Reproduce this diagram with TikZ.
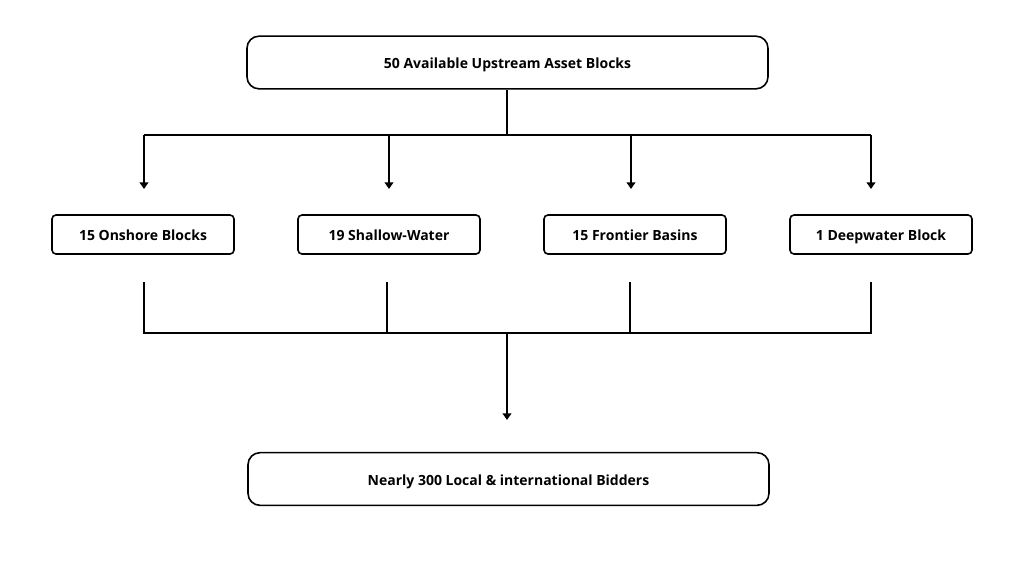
\documentclass[tikz,border=0pt]{standalone}
\usepackage{fontspec}
\setmainfont{Open Sans}
\usetikzlibrary{arrows.meta}
\begin{document}
\begin{tikzpicture}[x=0.75pt,y=-0.75pt,
  lbl/.style={font=\bfseries\fontsize{10.5}{12}\selectfont,text height=1.9ex,text depth=0.1ex},
  wide/.style={lbl,draw,line width=1.2pt,rounded corners=9pt,minimum width=390.75pt,minimum height=39.5pt,inner sep=0pt},
  small/.style={lbl,draw,line width=1.2pt,rounded corners=3pt,minimum width=136.5pt,minimum height=29.25pt,inner sep=0pt},
  conn/.style={line width=1.5pt},
  arr/.style={line width=1.5pt,-{Triangle[width=6.5pt,length=5pt]}}]
\useasboundingbox (0,0) rectangle (1024,576);
\node[wide] (top) at (507.5,62.5) {50 Available Upstream Asset Blocks};
\node[small] (b1) at (143,234.5) {15 Onshore Blocks};
\node[small] (b2) at (389,234.5) {19 Shallow-Water};
\node[small] (b3) at (635,234.5) {15 Frontier Basins};
\node[small] (b4) at (881,234.5) {1 Deepwater Block};
\node[wide] (bot) at (508.5,479) {Nearly 300 Local \& international Bidders};
% top bus
\coordinate (tj) at (507,135);
\coordinate (tl) at (144,135);
\coordinate (tr) at (871,135);
\coordinate (a1) at (144,189);
\coordinate (a2) at (389,189);
\coordinate (a3) at (631,189);
\coordinate (a4) at (871,189);
\coordinate (t2) at (389,135);
\coordinate (t3) at (631,135);
\draw[conn] (top.south -| tj) -- (tj);
\draw[conn] (tl) -- (tr);
\draw[arr] (tl) -- (a1);
\draw[arr] (t2) -- (a2);
\draw[arr] (t3) -- (a3);
\draw[arr] (tr) -- (a4);
% bottom bus
\coordinate (u1) at (144,282);
\coordinate (u2) at (387,282);
\coordinate (u3) at (630,282);
\coordinate (u4) at (871,282);
\coordinate (l1) at (144,333);
\coordinate (l2) at (387,333);
\coordinate (l3) at (630,333);
\coordinate (l4) at (871,333);
\coordinate (bj) at (507,333);
\coordinate (ba) at (507,420);
\draw[conn] (u1) -- (l1) -- (l4) -- (u4);
\draw[conn] (u2) -- (l2);
\draw[conn] (u3) -- (l3);
\draw[arr] (bj) -- (ba);
\end{tikzpicture}
\end{document}
